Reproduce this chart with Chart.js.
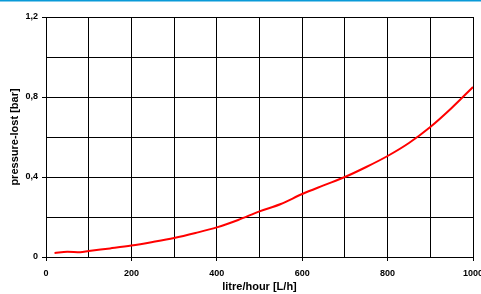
<!DOCTYPE html>
<html>
<head>
<meta charset="utf-8">
<script src="https://cdn.jsdelivr.net/npm/chart.js@4.4.1/dist/chart.umd.min.js"></script>
<style>
  html, body { margin: 0; padding: 0; background: #fff; }
  canvas { display: block; }
</style>
</head>
<body>
<canvas id="myChart" width="481" height="294"></canvas>
<script>
// litre/hour values
let flow = [20, 50, 80, 100, 150, 200, 250, 300, 350, 400, 450, 500, 550, 600, 650, 700, 750, 800, 850, 900, 950, 1000];
// pressure-lost [bar]
let pressure = [0.02, 0.026, 0.024, 0.03, 0.043, 0.057, 0.075, 0.095, 0.12, 0.148, 0.185, 0.228, 0.265, 0.315, 0.358, 0.40, 0.45, 0.505, 0.57, 0.65, 0.745, 0.85];

let xLabeled = [0, 200, 400, 600, 800, 1000];
let yLabeled = ['0', '0,4', '0,8', '1,2'];

let fontFam = "'Liberation Sans', Arial, sans-serif";

// thin blue rule at the very top of the picture
let topRule = {
    id: 'topRule',
    afterDraw(chart) {
        let c = chart.ctx;
        c.save();
        c.fillStyle = '#0a9ad8';
        c.fillRect(0, 0, chart.width, 1.5);
        c.restore();
    }
};

let ctx = document.getElementById('myChart').getContext('2d');
let myChart = new Chart(ctx, {
    type: 'line',
    data: {
        datasets: [{
            data: flow.map((f, i) => ({ x: f, y: pressure[i] })),
            borderColor: '#ff0000',
            borderWidth: 2,
            pointRadius: 0,
            cubicInterpolationMode: 'monotone',
            fill: false
        }]
    },
    options: {
        responsive: false,
        animation: false,
        layout: {
            padding: { top: 17, right: 8, left: 0, bottom: 0 }
        },
        plugins: {
            legend: { display: false },
            tooltip: { enabled: false }
        },
        scales: {
            x: {
                type: 'linear',
                min: 0,
                max: 1000,
                afterFit: s => { s.height = 37; s.paddingLeft = 0; s.paddingRight = 0; },
                ticks: {
                    stepSize: 100,
                    maxRotation: 0,
                    autoSkip: false,
                    padding: 7,
                    color: '#000',
                    font: { family: fontFam, size: 9, weight: 'bold' },
                    callback: v => xLabeled.includes(v) ? String(v) : ''
                },
                grid: {
                    color: '#000',
                    lineWidth: 1,
                    tickLength: 4,
                    tickColor: c => (c.tick && xLabeled.includes(c.tick.value)) ? '#000' : 'rgba(0,0,0,0)'
                },
                border: { color: '#000', width: 1 },
                title: {
                    display: true,
                    text: 'litre/hour [L/h]',
                    color: '#000',
                    padding: { top: -3, bottom: 0 },
                    font: { family: fontFam, size: 11, weight: 'bold' }
                }
            },
            y: {
                min: 0,
                max: 1.2,
                afterFit: s => { s.width = 46; },
                ticks: {
                    stepSize: 0.2,
                    autoSkip: false,
                    padding: 4,
                    color: '#000',
                    font: { family: fontFam, size: 9, weight: 'bold' },
                    callback: v => {
                        let k = Math.round(v * 10);
                        return k % 4 === 0 ? yLabeled[k / 4] : '';
                    }
                },
                grid: {
                    color: '#000',
                    lineWidth: 1,
                    tickLength: 4,
                    tickColor: c => (c.tick && Math.round(c.tick.value * 10) % 4 === 0) ? '#000' : 'rgba(0,0,0,0)'
                },
                border: { color: '#000', width: 1 },
                title: {
                    display: true,
                    text: 'pressure-lost [bar]',
                    color: '#000',
                    padding: { top: 8, bottom: 0 },
                    font: { family: fontFam, size: 11, weight: 'bold' }
                }
            }
        }
    },
    plugins: [topRule]
});
</script>
</body>
</html>
